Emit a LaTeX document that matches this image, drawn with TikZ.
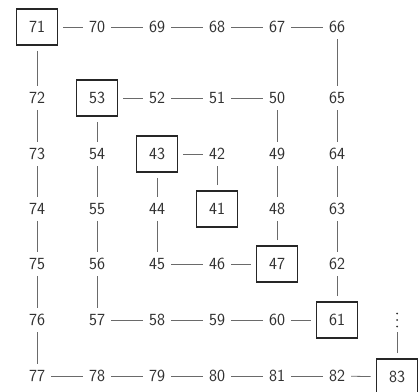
\documentclass[tikz,border=0pt]{standalone}
\usepackage{tikz}
\usetikzlibrary{positioning, calc}
\definecolor{numgray}{HTML}{303030}
\definecolor{linkgray}{HTML}{6a6a6a}

\begin{document}
\begin{tikzpicture}[x=1pt, y=-1pt,
    num/.style={font=\sffamily\fontsize{17}{20}\selectfont, text=numgray, inner sep=1pt},
    boxed/.style={num, draw=black!85, line width=1.7pt, minimum width=41pt, minimum height=36pt},
    link/.style={draw=linkgray, line width=0.8pt, shorten <=5pt, shorten >=5pt}]
    \useasboundingbox (0,0) rectangle (419,391);

    % row 1
    \node[boxed] (n71) at (37,27) {71};
    \node[num] (n70) at (97,27) {70};
    \node[num] (n69) at (157,27) {69};
    \node[num] (n68) at (217,27) {68};
    \node[num] (n67) at (277,27) {67};
    \node[num] (n66) at (337,27) {66};

    % row 2
    \node[num] (n72) at (37,98) {72};
    \node[boxed] (n53) at (97,98) {53};
    \node[num] (n52) at (157,98) {52};
    \node[num] (n51) at (217,98) {51};
    \node[num] (n50) at (277,98) {50};
    \node[num] (n65) at (337,98) {65};

    % row 3
    \node[num] (n73) at (37,154) {73};
    \node[num] (n54) at (97,154) {54};
    \node[boxed] (n43) at (157,154) {43};
    \node[num] (n42) at (217,154) {42};
    \node[num] (n49) at (277,154) {49};
    \node[num] (n64) at (337,154) {64};

    % row 4
    \node[num] (n74) at (37,209) {74};
    \node[num] (n55) at (97,209) {55};
    \node[num] (n44) at (157,209) {44};
    \node[boxed] (n41) at (217,209) {41};
    \node[num] (n48) at (277,209) {48};
    \node[num] (n63) at (337,209) {63};

    % row 5
    \node[num] (n75) at (37,264) {75};
    \node[num] (n56) at (97,264) {56};
    \node[num] (n45) at (157,264) {45};
    \node[num] (n46) at (217,264) {46};
    \node[boxed] (n47) at (277,264) {47};
    \node[num] (n62) at (337,264) {62};

    % row 6
    \node[num] (n76) at (37,320) {76};
    \node[num] (n57) at (97,320) {57};
    \node[num] (n58) at (157,320) {58};
    \node[num] (n59) at (217,320) {59};
    \node[num] (n60) at (277,320) {60};
    \node[boxed] (n61) at (337,320) {61};
    \node[inner sep=0pt, minimum width=4pt, minimum height=14pt] (more) at (397,320) {};
    % vertical dots
    \foreach \dy in {-6.5,0,6.5}
        \fill[numgray] ($(more.center)+(0,\dy)$) circle (1pt);

    % row 7
    \node[num] (n77) at (37,376) {77};
    \node[num] (n78) at (97,376) {78};
    \node[num] (n79) at (157,376) {79};
    \node[num] (n80) at (217,376) {80};
    \node[num] (n81) at (277,376) {81};
    \node[num] (n82) at (337,376) {82};
    \node[boxed] (n83) at (397,377) {83};

    % --- the spiral 41 -> 83 ---
    \foreach \i [evaluate=\i as \j using int(\i+1)] in {41,...,82}
        \draw[link] (n\i) -- (n\j);
    \draw[link] (n83) -- (more);
\end{tikzpicture}
\end{document}
